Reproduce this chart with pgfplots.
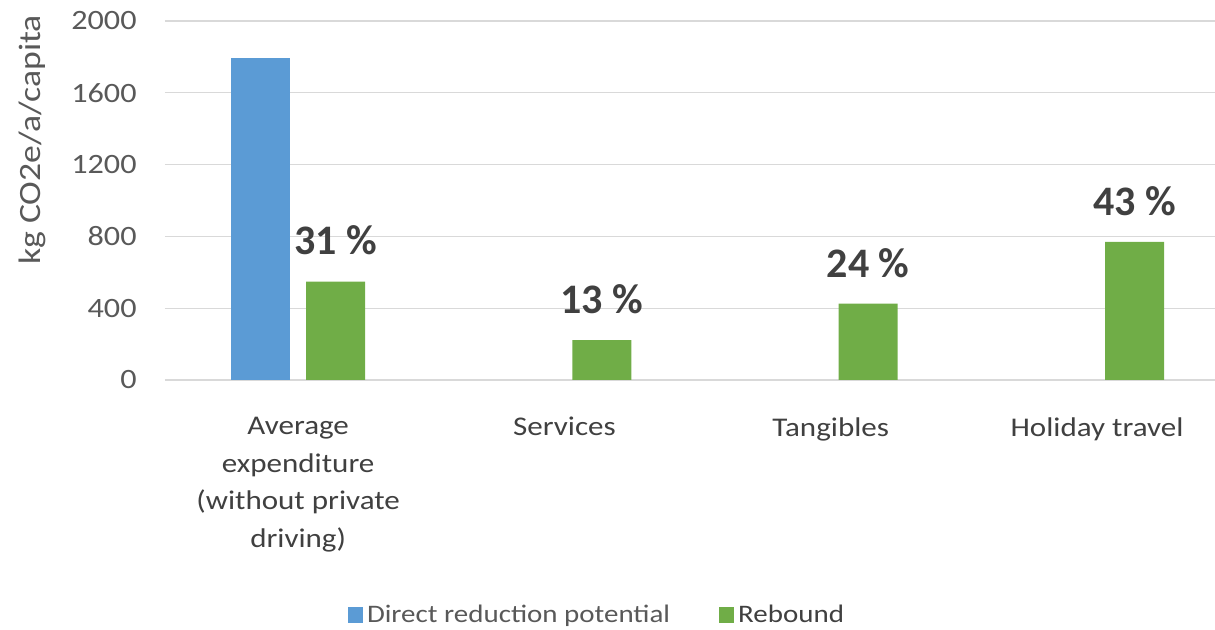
\documentclass[border=0pt]{standalone}
\usepackage{pgfplots}
\pgfplotsset{compat=1.18}
\usepackage{fontspec}
\setmainfont{Carlito}[FakeStretch=1.15]
\newfontfamily\labfont{Carlito}
\definecolor{cblue}{HTML}{5B9BD5}
\definecolor{cgreen}{HTML}{70AD47}
\definecolor{tickgray}{HTML}{595959}
\definecolor{labgray}{HTML}{404040}
\definecolor{gridgray}{HTML}{D9D9D9}
\begin{document}
\begin{tikzpicture}
\begin{axis}[
  at={(0,0)}, anchor=south west,
  scale only axis, width=525pt, height=179.5pt,
  xmin=-0.5, xmax=3.443, ymin=0, ymax=2000,
  ytick={0,400,...,2000},
  xtick={0,1,2,3},
  xticklabels={{Average\\expenditure\\(without private\\driving)}, Services, Tangibles, Holiday travel},
  ybar=8pt, bar width=29.5pt,
  ymajorgrids, grid style={gridgray, line width=0.6pt},
  axis line style={draw=none}, major tick length=0pt,
  /pgf/number format/assume math mode=true, /pgf/number format/1000 sep={},
  yticklabel style={font=\fontsize{14}{16}\selectfont, text=tickgray, anchor=east, inner sep=0pt, xshift=-14pt},
  xticklabel style={font=\fontsize{13.5}{18.75}\selectfont, text=labgray, align=center, anchor=north, inner sep=0pt, yshift=-18.5pt},
  ylabel={kg CO2e/a/capita},
  ylabel style={font=\fontsize{15.5}{18}\selectfont, text=tickgray, at={(rel axis cs:-0.1267,0.6685)}, anchor=center},
  legend style={at={(rel axis cs:0.4124,-0.6546)}, anchor=center, draw=none, font=\fontsize{12.6}{15}\selectfont, text=tickgray, legend columns=2, /tikz/every even column/.append style={column sep=22.5pt}},
  legend image code/.code={\fill[#1] (0pt,-3.75pt) rectangle (7.5pt,3.75pt);},
]
\addplot[fill=cblue, draw=none] coordinates {(0,1792)};
\addplot[fill=cgreen, draw=none, nodes near coords, point meta=explicit symbolic,
  nodes near coords style={font=\labfont\bfseries\fontsize{21}{24}\selectfont, text=labgray, anchor=center, yshift=20.5pt}]
  coordinates {(0,548) [31 \%] (1,222) [13 \%] (2,425) [24 \%] (3,770) [43 \%]};
\legend{Direct reduction potential, \textcolor{labgray}{Rebound}}
\end{axis}
\pgfresetboundingbox
\path[use as bounding box] (-82.5pt,-125pt) rectangle (525pt,190pt);
\end{tikzpicture}
\end{document}
